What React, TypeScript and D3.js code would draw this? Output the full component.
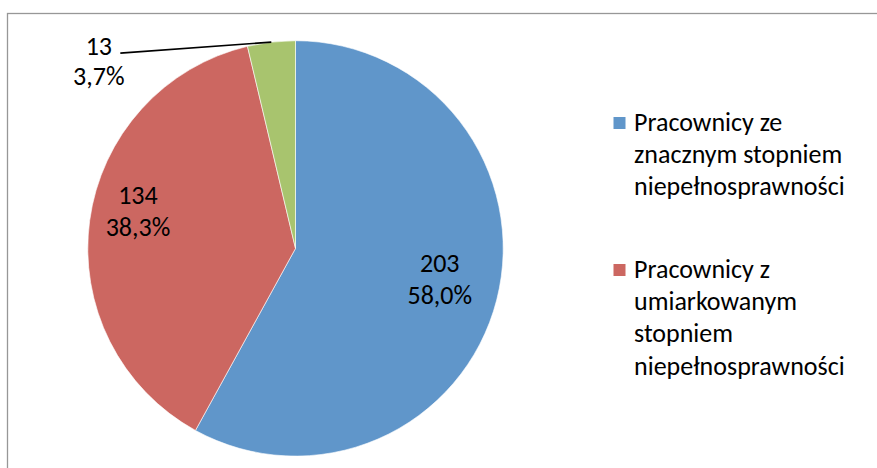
import React from "react";
import * as d3 from "d3";

const categories = [
  "Pracownicy ze znacznym stopniem niepełnosprawności",
  "Pracownicy z umiarkowanym stopniem niepełnosprawności",
  "Pracownicy z lekkim stopniem niepełnosprawności",
];
const values = [203, 134, 13];
const percentLabels = ["58,0%", "38,3%", "3,7%"];
const colors = ["#6096CA", "#CC6761", "#A8C46E"];
const legendLines = [
  ["Pracownicy ze", "znacznym stopniem", "niepełnosprawności"],
  ["Pracownicy z", "umiarkowanym", "stopniem", "niepełnosprawności"],
];

const W = 877;
const H = 468;
const FONT = "Carlito, Lato, 'Liberation Sans', sans-serif";

export default function App() {
  const cx = 295.5;
  const cy = 248.4;
  const r = 207.7;
  const pie = d3.pie<number>().sort(null).value((d) => d)(values);
  const arc = d3.arc<d3.PieArcDatum<number>>().innerRadius(0).outerRadius(r);
  const fs = 26;
  const lh = 32;

  // label placement (inside for big slices, outside with leader for small)
  const labelRadius = [150, 158];
  const labelNudge = [
    [-1, -13.5],
    [-1, -23],
  ];

  return (
    <svg
      width={W}
      height={H}
      style={{ position: "absolute", left: 0, top: 0, background: "#fff" }}
      fontFamily={FONT}
    >
      <rect x={7.5} y={13.5} width={W + 20} height={H + 20} fill="#fff" stroke="#979797" strokeWidth={1.3} />
      <g transform={`translate(${cx},${cy})`}>
        {pie.map((p, i) => (
          <path key={i} d={arc(p) || ""} fill={colors[i]} stroke="#fff" strokeWidth={0.6} />
        ))}
        {pie.map((p, i) => {
          const mid = (p.startAngle + p.endAngle) / 2;
          if (i < 2) {
            const lr = labelRadius[i];
            const x = Math.sin(mid) * lr + labelNudge[i][0];
            const y = -Math.cos(mid) * lr + labelNudge[i][1];
            return (
              <text key={"l" + i} textAnchor="middle" fontSize={fs} fill="#000">
                <tspan x={x} y={y}>{values[i]}</tspan>
                <tspan x={x} y={y + lh}>{percentLabels[i]}</tspan>
              </text>
            );
          }
          const ex = Math.sin(mid) * r;
          const ey = -Math.cos(mid) * r;
          const lx = ex - 151;
          const ly = ey + 11;
          const tx = lx - 21.5;
          return (
            <g key={"l" + i}>
              <line x1={ex} y1={ey} x2={lx} y2={ly} stroke="#000" strokeWidth={1.6} />
              <text textAnchor="middle" fontSize={fs} fill="#000">
                <tspan x={tx} y={ly + 1.5}>{values[i]}</tspan>
                <tspan x={tx} y={ly + 1.5 + lh - 1.5}>{percentLabels[i]}</tspan>
              </text>
            </g>
          );
        })}
      </g>
      <g>
        {legendLines.map((lines, i) => {
          const y0 = i === 0 ? 131 : 278;
          return (
            <g key={"lg" + i}>
              <rect x={613.5} y={y0 - 14} width={12} height={12} fill={colors[i]} />
              <text fontSize={fs} fill="#000">
                {lines.map((t, j) => (
                  <tspan key={j} x={634} y={y0 + j * 32.2}>
                    {t}
                  </tspan>
                ))}
              </text>
            </g>
          );
        })}
      </g>
    </svg>
  );
}
